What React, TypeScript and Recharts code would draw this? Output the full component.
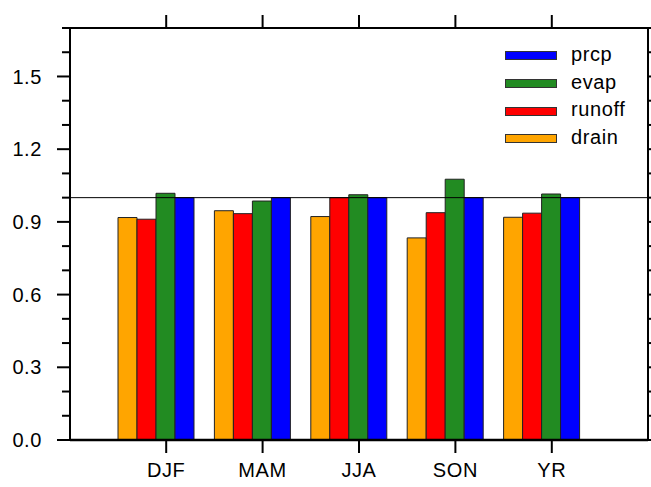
import React from "react";
import {
  BarChart,
  Bar,
  XAxis,
  YAxis,
  ReferenceLine,
} from "recharts";

// seasons on the x axis
const seasons = ["DJF", "MAM", "JJA", "SON", "YR"];

// ratio values per season
const drain = [0.918, 0.946, 0.922, 0.834, 0.919];
const runoff = [0.911, 0.934, 1.0, 0.938, 0.936];
const evap = [1.018, 0.986, 1.012, 1.076, 1.015];
const prcp = [1.0, 1.0, 1.0, 1.0, 1.0];

const yTicks = [0, 0.1, 0.2, 0.3, 0.4, 0.5, 0.6, 0.7, 0.8, 0.9, 1.0, 1.1, 1.2, 1.3, 1.4, 1.5, 1.6, 1.7];

// legend order is top-down as in the figure
const legendItems = [
  { name: "prcp", color: "#0000FF" },
  { name: "evap", color: "#228B22" },
  { name: "runoff", color: "#FF0000" },
  { name: "drain", color: "#FFA500" },
];

const data = seasons.map((s, i) => ({
  season: s,
  drain: drain[i],
  runoff: runoff[i],
  evap: evap[i],
  prcp: prcp[i],
}));

const FONT = "'Liberation Sans', Arial, Helvetica, sans-serif";
const isMajor = (v: number) => Math.round(v * 10) % 3 === 0;

const LeftTick = (props: any) => {
  const { x, y, payload } = props;
  const v = payload.value;
  const major = isMajor(v);
  return (
    <g>
      <line x1={major ? x : x + 5} x2={x + 13} y1={y} y2={y} stroke="#000" strokeWidth={2} />
      {major && (
        <text x={x - 15} y={y} dy="0.36em" textAnchor="end" fontSize={20} letterSpacing={0.6} fontFamily={FONT} fill="#000">
          {v.toFixed(1)}
        </text>
      )}
    </g>
  );
};

const RightTick = (props: any) => {
  const { x, y, payload } = props;
  const major = isMajor(payload.value);
  const x0 = x - 13;
  return <line x1={x0} x2={x0 + (major ? 13 : 8)} y1={y} y2={y} stroke="#000" strokeWidth={2} />;
};

// tick marks only, no label, for the top frame
const TopTick = (props: any) => {
  const { x, y } = props;
  return <line x1={x} x2={x} y1={y} y2={y + 13} stroke="#000" strokeWidth={2} />;
};

const LegendBox = () => (
  <div style={{ position: "absolute", left: 505, top: 42, fontFamily: FONT, fontSize: 20, letterSpacing: 0.6 }}>
    {legendItems.map((it) => (
      <div key={it.name} style={{ display: "flex", alignItems: "center", height: 27.7 }}>
        <div
          style={{
            width: 50,
            height: 7,
            background: it.color,
            border: "1px solid #333",
            marginRight: 14,
          }}
        />
        <span style={{ lineHeight: "20px", marginTop: -4 }}>{it.name}</span>
      </div>
    ))}
  </div>
);

export default function App() {
  return (
    <div style={{ position: "absolute", left: 0, top: 0, width: 651, height: 487, background: "#fff" }}>
      <BarChart
        width={651}
        height={487}
        data={data}
        margin={{ top: 0, right: 0, bottom: 0, left: 0 }}
        barCategoryGap={0}
        barGap={0}
      >
        <XAxis
          dataKey="season"
          xAxisId={0}
          height={47}
          padding={{ left: 48, right: 48 }}
          tickSize={13}
          tickMargin={10}
          tickLine={{ stroke: "#000", strokeWidth: 2 }}
          axisLine={{ stroke: "#000", strokeWidth: 2.5 }}
          tick={{ fill: "#000", fontSize: 20, fontFamily: FONT, letterSpacing: 0.6 }}
          interval={0}
        />
        <XAxis
          dataKey="season"
          xAxisId="top"
          orientation="top"
          height={28}
          padding={{ left: 48, right: 48 }}
          tickSize={13}
          tickMargin={0}
          tickLine={false}
          axisLine={{ stroke: "#000", strokeWidth: 2 }}
          tick={<TopTick />}
          interval={0}
        />
        <YAxis
          yAxisId={0}
          width={70}
          type="number"
          domain={[0, 1.7]}
          ticks={yTicks}
          interval={0}
          tickSize={13}
          tickMargin={0}
          tickLine={false}
          axisLine={{ stroke: "#000", strokeWidth: 2 }}
          tick={<LeftTick />}
          allowDataOverflow
        />
        <YAxis
          yAxisId="right"
          orientation="right"
          width={3}
          type="number"
          domain={[0, 1.7]}
          ticks={yTicks}
          interval={0}
          tickSize={13}
          tickMargin={0}
          tickLine={false}
          axisLine={{ stroke: "#000", strokeWidth: 2 }}
          tick={<RightTick />}
          allowDataOverflow
        />
        <ReferenceLine y={1} stroke="#000" strokeWidth={1} />
        <Bar dataKey="drain" fill="#FFA500" stroke="#222" strokeWidth={1} isAnimationActive={false} />
        <Bar dataKey="runoff" fill="#FF0000" stroke="#222" strokeWidth={1} isAnimationActive={false} />
        <Bar dataKey="evap" fill="#228B22" stroke="#222" strokeWidth={1} isAnimationActive={false} />
        <Bar dataKey="prcp" fill="#0000FF" stroke="#222" strokeWidth={1} isAnimationActive={false} />
        {/* empty slot so the group sits like the original (green on the tick) */}
        <Bar dataKey="pad" fill="none" isAnimationActive={false} />
      </BarChart>
      <LegendBox />
    </div>
  );
}
